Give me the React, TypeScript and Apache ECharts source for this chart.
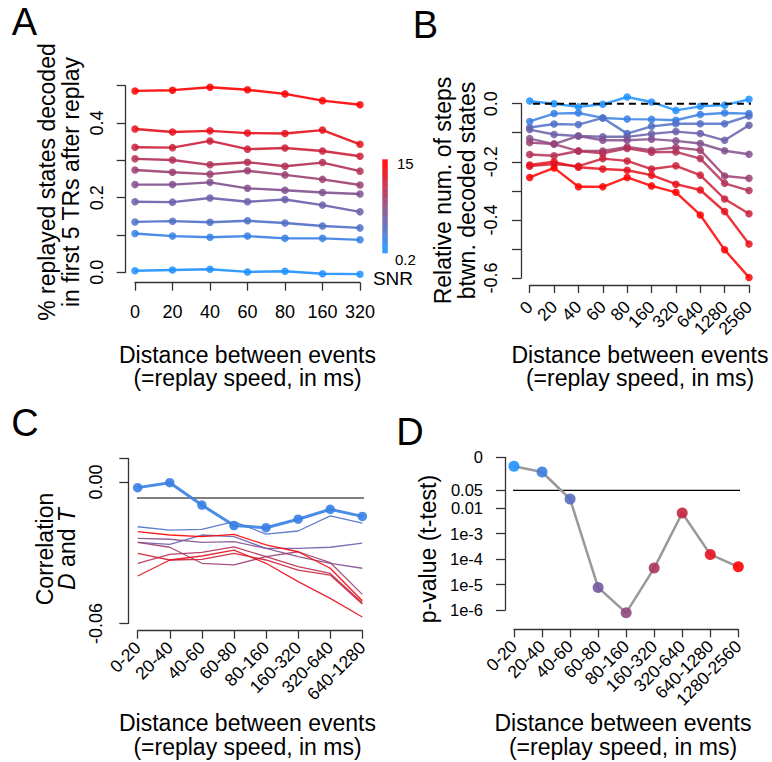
import React, { useEffect, useRef } from "react";
import * as echarts from "echarts";

const FONT = "'Liberation Sans', Arial, Helvetica, sans-serif";

// ---------- categories ----------
const speedsA = ["0", "20", "40", "60", "80", "160", "320"];
const speedsB = ["0", "20", "40", "60", "80", "160", "320", "640", "1280", "2560"];
const rangesC = ["0-20", "20-40", "40-60", "60-80", "80-160", "160-320", "320-640", "640-1280"];
const rangesD = ["0-20", "20-40", "40-60", "60-80", "80-160", "160-320", "320-640", "640-1280", "1280-2560"];

// ---------- panel A: % replayed states decoded (low SNR -> high SNR) ----------
const decodedA = [
  [0.004, 0.006, 0.008, 0.001, 0.003, -0.004, -0.005],
  [0.104, 0.097, 0.094, 0.097, 0.091, 0.091, 0.087],
  [0.135, 0.137, 0.134, 0.138, 0.132, 0.124, 0.119],
  [0.189, 0.188, 0.199, 0.189, 0.195, 0.18, 0.162],
  [0.235, 0.235, 0.241, 0.225, 0.22, 0.214, 0.21],
  [0.274, 0.268, 0.263, 0.272, 0.261, 0.249, 0.234],
  [0.304, 0.301, 0.288, 0.295, 0.284, 0.294, 0.271],
  [0.335, 0.334, 0.352, 0.33, 0.333, 0.325, 0.311],
  [0.384, 0.376, 0.379, 0.373, 0.372, 0.381, 0.343],
  [0.486, 0.488, 0.496, 0.489, 0.478, 0.46, 0.449],
];

// ---------- panel B: relative num. of steps (low SNR -> high SNR) ----------
const stepsB = [
  [0.009, 0.0, -0.011, -0.002, 0.023, 0.006, -0.023, -0.009, -0.005, 0.015],
  [-0.061, -0.034, -0.032, -0.049, -0.053, -0.054, -0.057, -0.037, -0.032, -0.034],
  [-0.082, -0.07, -0.072, -0.049, -0.103, -0.078, -0.069, -0.069, -0.069, -0.042],
  [-0.089, -0.106, -0.111, -0.114, -0.114, -0.104, -0.096, -0.103, -0.126, -0.074],
  [-0.12, -0.139, -0.111, -0.126, -0.126, -0.122, -0.128, -0.137, -0.162, -0.174],
  [-0.134, -0.139, -0.163, -0.163, -0.149, -0.16, -0.151, -0.16, -0.249, -0.257],
  [-0.175, -0.179, -0.163, -0.171, -0.154, -0.167, -0.166, -0.189, -0.274, -0.299],
  [-0.215, -0.208, -0.215, -0.189, -0.197, -0.225, -0.214, -0.246, -0.328, -0.379],
  [-0.211, -0.2, -0.219, -0.225, -0.229, -0.246, -0.277, -0.297, -0.371, -0.483],
  [-0.254, -0.221, -0.286, -0.286, -0.254, -0.283, -0.305, -0.383, -0.503, -0.598],
];

// ---------- panel C: correlation of D and T ----------
const corrMeanC = [-0.0024, -0.0003, -0.0098, -0.0185, -0.0194, -0.0158, -0.0116, -0.0146];
const corrThinC = [
  [-0.019, -0.0204, -0.0201, -0.0168, -0.0221, -0.0208, -0.0144, -0.0175],
  [-0.0256, -0.0265, -0.0225, -0.0232, -0.0282, -0.0282, -0.0277, -0.0259],
  [-0.0239, -0.0243, -0.0256, -0.0253, -0.0282, -0.0317, -0.0345, -0.0366],
  [-0.0256, -0.0277, -0.0345, -0.0352, -0.0317, -0.0296, -0.0342, -0.0477],
  [-0.0345, -0.0307, -0.0299, -0.0275, -0.0317, -0.0359, -0.0388, -0.0512],
  [-0.0303, -0.0331, -0.0328, -0.0303, -0.0331, -0.0374, -0.0395, -0.0518],
  [-0.0399, -0.0331, -0.0314, -0.0289, -0.0345, -0.0423, -0.0494, -0.0573],
  [-0.0211, -0.0225, -0.0232, -0.0222, -0.0267, -0.0296, -0.0366, -0.0504],
];
const corrThinColorIdx = [2, 3, 4, 5, 6, 7, 8, 9];
const corrBaselineC = -0.0068;

// ---------- panel D: p-values (as -log10 p) ----------
const negLogPD = [0.354, 0.577, 1.639, 5.115, 6.112, 4.354, 2.19, 3.816, 4.302];
const pThresholdD = 0.05;
const pTickValuesD = [0, -Math.log10(0.05), 2, 3, 4, 5, 6];
const pTickLabelsD = ["0", "0.05", "0.01", "1e-3", "1e-4", "1e-5", "1e-6"];

// ---------- axis ticks ----------
const ticksA = [0, 0.1, 0.2, 0.3, 0.4, 0.5];
const labelsA = [0, 0.2, 0.4];
const ticksB = [0, -0.1, -0.2, -0.3, -0.4, -0.5, -0.6];
const labelsB = [0, -0.2, -0.4, -0.6];
const ticksC = [0.01, 0, -0.06];
const labelsC = [0, -0.06];

function ramp(n: number): string[] {
  const out: string[] = [];
  for (let i = 0; i < n; i++) {
    const t = n === 1 ? 0 : i / (n - 1);
    const r = Math.round(30 + 225 * t);
    const g = Math.round(144 * (1 - t));
    const b = Math.round(255 * (1 - t));
    out.push(`rgb(${r},${g},${b})`);
  }
  return out;
}

const pal10 = ramp(10);
const pal9 = ramp(9);

const AXIS_COLOR = "#333";

function catAxis(gridIndex: number, data: string[], rotate: number, margin: number, offset: number, fontSize: number) {
  return {
    type: "category",
    gridIndex,
    data,
    boundaryGap: false,
    offset,
    position: "bottom",
    axisLine: { show: true, onZero: false, lineStyle: { color: AXIS_COLOR, width: 1.3 } },
    axisTick: { show: true, length: 8, interval: 0, lineStyle: { color: AXIS_COLOR, width: 1.3 } },
    axisLabel: { interval: 0, rotate, margin, color: "#000", fontSize, fontFamily: FONT },
    splitLine: { show: false },
  };
}

function valAxisY(gridIndex: number, min: number, max: number, offset: number, ticks: number[], labels: number[], margin: number, fmt: (v: number) => string, rotate: number, fontSize = 18, inverse = false) {
  return {
    type: "value",
    gridIndex,
    min,
    max,
    inverse,
    offset,
    position: "left",
    axisLine: { show: true, onZero: false, lineStyle: { color: AXIS_COLOR, width: 1.3 } },
    axisTick: { show: true, length: 9, customValues: ticks, lineStyle: { color: AXIS_COLOR, width: 1.3 } },
    axisLabel: { customValues: labels, rotate, margin, color: "#000", fontSize, fontFamily: FONT, formatter: fmt },
    splitLine: { show: false },
  };
}

function txt(text: string, x: number, y: number, size: number, rotation = 0, extra: any = {}) {
  return {
    type: "text",
    x,
    y,
    rotation,
    silent: true,
    style: {
      text,
      fill: "#000",
      fontSize: size,
      fontFamily: FONT,
      align: "center",
      verticalAlign: "middle",
      ...extra,
    },
  };
}

const X_TITLE = "Distance between events\n(=replay speed, in ms)";

export default function App() {
  const ref = useRef<HTMLDivElement>(null);

  useEffect(() => {
    if (!ref.current) return;
    const chart = echarts.init(ref.current, undefined, { renderer: "svg" });

    const series: any[] = [];

    decodedA.forEach((vals, i) => {
      series.push({
        type: "line",
        xAxisIndex: 0,
        yAxisIndex: 0,
        data: vals,
        clip: false,
        silent: true,
        symbol: "circle",
        symbolSize: 7.5,
        lineStyle: { color: pal10[i], width: 2.4, opacity: 0.9 },
        itemStyle: { color: pal10[i], opacity: 0.85 },
      });
    });

    stepsB.forEach((vals, i) => {
      series.push({
        type: "line",
        xAxisIndex: 1,
        yAxisIndex: 1,
        data: vals,
        clip: false,
        silent: true,
        symbol: "circle",
        symbolSize: 7.5,
        lineStyle: { color: pal10[i], width: 2.4, opacity: 0.85 },
        itemStyle: { color: pal10[i], opacity: 0.85 },
      });
    });

    // reference dashed zero line in B
    series.push({
      type: "line",
      xAxisIndex: 4,
      yAxisIndex: 1,
      data: [[-0.36, 0], [9.42, 0]],
      clip: false,
      silent: true,
      symbol: "none",
      lineStyle: { color: "#000", width: 2, type: [7, 5] },
      z: 5,
    });

    corrThinC.forEach((vals, i) => {
      series.push({
        type: "line",
        xAxisIndex: 2,
        yAxisIndex: 2,
        data: vals,
        clip: false,
        silent: true,
        symbol: "none",
        lineStyle: { color: pal10[corrThinColorIdx[i]], width: 1.3, opacity: 0.9 },
      });
    });
    series.push({
      type: "line",
      xAxisIndex: 2,
      yAxisIndex: 2,
      data: corrMeanC,
      clip: false,
      silent: true,
      symbol: "circle",
      symbolSize: 9.5,
      lineStyle: { color: pal10[1], width: 3, opacity: 0.9 },
      itemStyle: { color: pal10[1], opacity: 0.9 },
      z: 4,
    });
    series.push({
      type: "line",
      xAxisIndex: 5,
      yAxisIndex: 2,
      data: [[-0.29, corrBaselineC], [7.3, corrBaselineC]],
      clip: false,
      silent: true,
      symbol: "none",
      lineStyle: { color: "#000", width: 1.2 },
    });

    const pThr = -Math.log10(pThresholdD);
    series.push({
      type: "line",
      xAxisIndex: 6,
      yAxisIndex: 3,
      data: [[-0.75, pThr], [8.35, pThr]],
      clip: false,
      silent: true,
      symbol: "none",
      lineStyle: { color: "#000", width: 1.2 },
    });
    series.push({
      type: "line",
      xAxisIndex: 3,
      yAxisIndex: 3,
      data: negLogPD.map((v, i) => ({ value: v, itemStyle: { color: pal9[i], opacity: 0.9 } })),
      clip: false,
      silent: true,
      symbol: "circle",
      symbolSize: 11,
      lineStyle: { color: "#999", width: 2.5 },
      z: 4,
    });

    // colorbar (legend for SNR)
    const cbTop = 159.3;
    const cbBottom = 253;
    const cbH = (cbBottom - cbTop) / 10;
    const colorbar = pal10.map((c, i) => ({
      type: "rect",
      silent: true,
      shape: { x: 382.3, y: cbBottom - (i + 1) * cbH, width: 5.5, height: cbH + 0.3 },
      style: { fill: c, opacity: 0.9 },
    }));

    const graphic: any[] = [
      txt("A", 24.5, 22, 38),
      txt("B", 425.5, 24.5, 38),
      txt("C", 25, 423, 38),
      txt("D", 410, 431.5, 38),
      // A titles
      txt("% replayed states decoded\nin first 5 TRs after replay", 59, 182, 23, Math.PI / 2, { lineHeight: 23.5 }),
      txt(X_TITLE, 247.5, 366.5, 23, 0, { lineHeight: 23.5 }),
      // B titles
      txt("Relative num. of steps\nbtwn. decoded states", 455, 190.5, 23, Math.PI / 2, { lineHeight: 24 }),
      txt(X_TITLE, 640, 366.5, 23, 0, { lineHeight: 23.5 }),
      // colorbar labels
      txt("15", 397, 163, 15, 0, { align: "left" }),
      txt("0.2", 395, 259, 15, 0, { align: "left" }),
      txt("SNR", 393, 278.5, 19),
      // C titles
      {
        type: "text",
        x: 56,
        y: 549,
        rotation: Math.PI / 2,
        silent: true,
        style: {
          text: "Correlation\n{i|D} and {i|T}",
          fill: "#000",
          fontSize: 23,
          fontFamily: FONT,
          lineHeight: 22,
          align: "center",
          verticalAlign: "middle",
          rich: { i: { fontStyle: "italic", fontSize: 23, fontFamily: FONT, fill: "#000", lineHeight: 22 } },
        },
      },
      txt(X_TITLE, 247.5, 735, 23, 0, { lineHeight: 23.5 }),
      // D titles
      txt("p-value (t-test)", 428, 549, 23, Math.PI / 2),
      txt(X_TITLE, 623, 735, 23, 0, { lineHeight: 23.5 }),
      ...colorbar,
    ];

    const option: any = {
      animation: false,
      textStyle: { fontFamily: FONT },
      grid: [
        { left: 135, top: 85.7, width: 225, height: 186.6 },
        { left: 529.7, top: 103.7, width: 219.3, height: 174.3 },
        { left: 137.7, top: 458.4, width: 224.6, height: 165 },
        { left: 514, top: 457.3, width: 224.3, height: 152.7 },
      ],
      xAxis: [
        catAxis(0, speedsA, 0, 20, 10.4, 18),
        catAxis(1, speedsB, 45, 19, 7, 17.5),
        catAxis(2, rangesC, 45, 14, 7.3, 17.5),
        catAxis(3, rangesD, 45, 14, 19.3, 17.5),
        { type: "value", gridIndex: 1, min: 0, max: speedsB.length - 1, show: false },
        { type: "value", gridIndex: 2, min: 0, max: rangesC.length - 1, show: false },
        { type: "value", gridIndex: 3, min: 0, max: rangesD.length - 1, show: false },
      ],
      yAxis: [
        valAxisY(0, 0, 0.5, 9.3, ticksA, labelsA, 20, (v: number) => v.toFixed(1), 90),
        valAxisY(1, -0.6, 0, 8.7, ticksB, labelsB, 21, (v: number) => (Math.abs(v) < 1e-9 ? "0.0" : v.toFixed(1)), 90),
        valAxisY(2, -0.06, 0.01, 9.4, ticksC, labelsC, 23, (v: number) => (Math.abs(v) < 1e-9 ? "0.00" : v.toFixed(2)), 90),
        valAxisY(
          3,
          0,
          6,
          9,
          pTickValuesD,
          pTickValuesD,
          22,
          (v: number) => {
            let best = 0;
            let bd = Infinity;
            pTickValuesD.forEach((t, i) => {
              const d = Math.abs(t - v);
              if (d < bd) {
                bd = d;
                best = i;
              }
            });
            return pTickLabelsD[best];
          },
          0,
          16.5,
          true
        ),
      ],
      series,
      graphic,
    };

    chart.setOption(option);
    return () => {
      chart.dispose();
    };
  }, []);

  return (
    <div
      ref={ref}
      style={{ position: "fixed", left: 0, top: 0, width: 772, height: 762, background: "#fff" }}
    />
  );
}
